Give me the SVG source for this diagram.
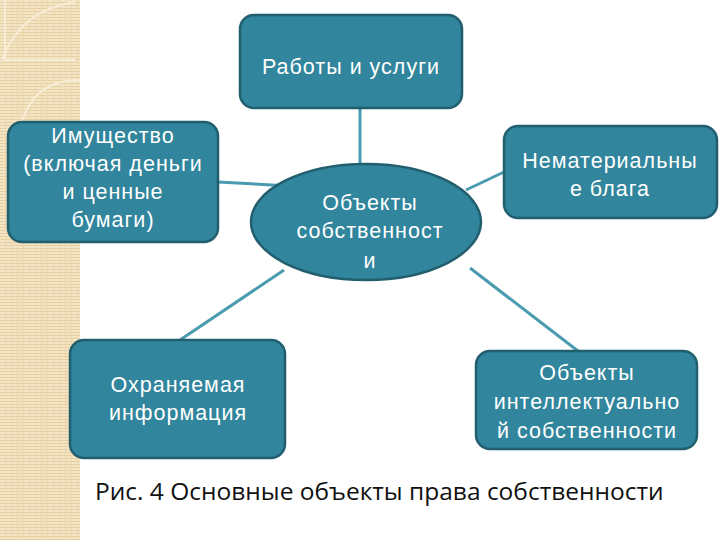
<svg xmlns="http://www.w3.org/2000/svg" width="720" height="540" viewBox="0 0 720 540">
<defs>
<pattern id="stripes" x="0" y="0" width="6" height="3" patternUnits="userSpaceOnUse">
<rect width="6" height="3" fill="#F4E5C6"/>
<rect y="2" width="6" height="1" fill="#E6CF9F"/>
<rect x="5" width="1" height="3" fill="#ECD8B0"/>
</pattern>
<style>
.node{fill:#31859C;stroke:#215E6E;stroke-width:2.5}
.t{font-family:"Liberation Sans",Arial,sans-serif;font-size:21.5px;letter-spacing:1px;fill:#FFFFFF;text-anchor:middle}
.c{stroke:#4A9BB0;stroke-width:3;fill:none}
</style>
</defs>
<rect width="720" height="540" fill="#FFFFFF"/>
<rect x="0" y="0" width="80" height="540" fill="url(#stripes)"/>
<g fill="none" stroke="#F7ECD6" stroke-width="2">
<path d="M5 0 V60 H75"/>
<path d="M2 60 Q20 10 75 2"/>
<path d="M20 130 Q30 80 80 80"/>
</g>
<g id="connectors">
<line class="c" x1="360" y1="108" x2="360" y2="165"/>
<line class="c" x1="218" y1="182" x2="290" y2="186"/>
<line class="c" x1="504" y1="172" x2="466" y2="190"/>
<line class="c" x1="180" y1="340" x2="284" y2="270"/>
<line class="c" x1="578" y1="351" x2="470" y2="268"/>
</g>
<g id="works">
<rect class="node" x="240" y="15" width="222" height="93" rx="14"/>
<text class="t" x="351" y="74">Работы и услуги</text>
</g>
<g id="property">
<rect class="node" x="8" y="122" width="210" height="120" rx="14"/>
<text class="t" x="113" y="143">Имущество</text>
<text class="t" x="113" y="171">(включая деньги</text>
<text class="t" x="113" y="199">и ценные</text>
<text class="t" x="113" y="227">бумаги)</text>
</g>
<g id="center">
<ellipse class="node" cx="366" cy="222" rx="115" ry="58"/>
<text class="t" x="370" y="210">Объекты</text>
<text class="t" x="370" y="238">собственност</text>
<text class="t" x="370" y="268">и</text>
</g>
<g id="intangible">
<rect class="node" x="504" y="126" width="213" height="92" rx="14"/>
<text class="t" x="610" y="168">Нематериальны</text>
<text class="t" x="610" y="196">е блага</text>
</g>
<g id="info">
<rect class="node" x="70" y="340" width="215" height="118" rx="14"/>
<text class="t" x="178" y="392">Охраняемая</text>
<text class="t" x="178" y="420">информация</text>
</g>
<g id="ip">
<rect class="node" x="476" y="351" width="221" height="98" rx="14"/>
<text class="t" x="587" y="380">Объекты</text>
<text class="t" x="587" y="409">интеллектуально</text>
<text class="t" x="587" y="438">й собственности</text>
</g>
<text x="95" y="500" font-family="'Open Sans','Noto Sans',sans-serif" font-size="24.5" fill="#111111">Рис. 4 Основные объекты права собственности</text>
</svg>
